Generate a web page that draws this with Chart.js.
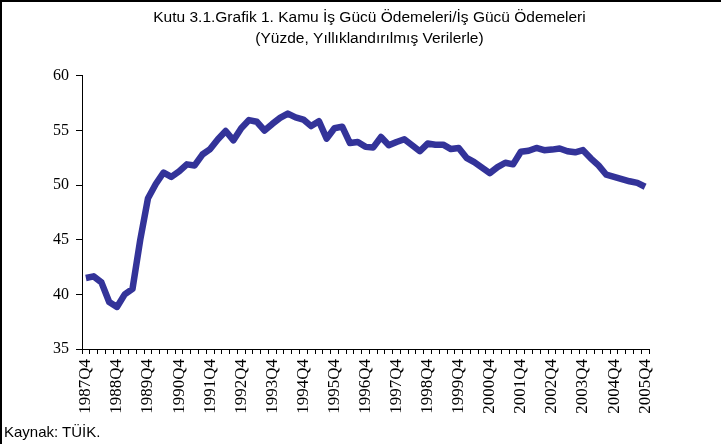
<!DOCTYPE html>
<html>
<head>
<meta charset="utf-8">
<script src="https://cdn.jsdelivr.net/npm/chart.js@4"></script>
<style>
  html, body { margin: 0; padding: 0; background: #fff; }
  #wrap { position: relative; width: 721px; height: 444px; overflow: hidden; }
  #frame { position: absolute; left: 0; top: 0; right: -4px; bottom: -4px;
           border-left: 2px solid #000; border-top: 2px solid #000; pointer-events: none; }
  #kaynak { position: absolute; left: 4px; top: 423px;
            font: 15px 'Liberation Sans Narrow', 'Liberation Sans', Arial, sans-serif; color: #000; }
</style>
</head>
<body>
<div id="wrap">
  <canvas id="chart" width="721" height="444"></canvas>
  <div id="frame"></div>
  <div id="kaynak">Kaynak: TÜİK.</div>
</div>
<script>
// Başlık
const titleLines = ['Kutu 3.1.Grafik 1. Kamu İş Gücü Ödemeleri/İş Gücü Ödemeleri', '(Yüzde, Yıllıklandırılmış Verilerle)'];

// Çeyrekler: 1987Q4 - 2005Q4
const firstYear = 1987;
const lastYear = 2005;
const quarters = [];
for (let y = firstYear; y <= lastYear; y++) {
  for (let q = 1; q <= 4; q++) {
    if (y === firstYear && q < 4) continue;
    quarters.push(y + 'Q' + q);
  }
}

// Kamu iş gücü ödemeleri / iş gücü ödemeleri (%)
const kamuPayi = [
  41.5, 41.65, 41.1, 39.3, 38.85, 40.0, 40.5, 45.0, 48.8, 50.1,
  51.15, 50.75, 51.25, 51.9, 51.8, 52.8, 53.3, 54.2, 54.95, 54.1,
  55.2, 55.95, 55.8, 55.0, 55.6, 56.15, 56.55, 56.2, 56.0, 55.4,
  55.85, 54.25, 55.2, 55.35, 53.85, 53.95, 53.5, 53.45, 54.4, 53.65,
  53.95, 54.2, 53.65, 53.1, 53.8, 53.7, 53.7, 53.3, 53.4, 52.5,
  52.1, 51.6, 51.1, 51.65, 52.05, 51.9, 53.05, 53.15, 53.4, 53.2,
  53.25, 53.35, 53.1, 53.0, 53.2, 52.45, 51.8, 50.95, 50.75, 50.55,
  50.35, 50.2, 49.85
];

// Eksen
const yMin = 35;
const yMax = 60;
const yStep = 5;

const serif = "'Liberation Serif', 'Times New Roman', serif";
const narrow = "'Liberation Sans Narrow', 'Liberation Sans', Arial, sans-serif";

const ctx = document.getElementById('chart').getContext('2d');
new Chart(ctx, {
  type: 'line',
  data: {
    labels: quarters,
    datasets: [{
      data: kamuPayi,
      borderColor: '#333399',
      borderWidth: 6.5,
      pointRadius: 0,
      tension: 0,
      borderJoinStyle: 'round',
      fill: false
    }]
  },
  options: {
    responsive: false,
    animation: false,
    layout: { padding: { left: 18, right: 0, top: 0, bottom: 0 } },
    plugins: {
      legend: { display: false },
      tooltip: { enabled: false },
      title: {
        display: true,
        text: titleLines,
        color: '#000',
        font: { family: narrow, size: 15.5, weight: 'normal', lineHeight: 1.35 },
        padding: { top: 7, bottom: 27 }
      }
    },
    scales: {
      x: {
        offset: true,
        grid: { display: true, offset: true, drawOnChartArea: false, drawTicks: true, tickLength: 5, color: '#000', lineWidth: 1 },
        border: { display: true, color: '#000', width: 1 },
        ticks: {
          autoSkip: false,
          maxRotation: 90,
          minRotation: 90,
          padding: 5,
          color: '#000',
          font: { family: serif, size: 17 },
          callback: function (val, i) { return i % 4 === 0 ? this.getLabelForValue(val) : ''; }
        },
        afterFit: function (scale) { scale.height = 95; }
      },
      y: {
        min: yMin,
        max: yMax,
        grid: { display: true, drawOnChartArea: false, drawTicks: true, tickLength: 6, color: '#000', lineWidth: 1 },
        border: { display: true, color: '#000', width: 1 },
        ticks: { stepSize: yStep, padding: 7, color: '#000', font: { family: serif, size: 16 } },
        afterFit: function (scale) { scale.width = 64; }
      },
      y2: {
        position: 'right',
        min: yMin,
        max: yMax,
        grid: { display: false },
        border: { display: false },
        ticks: { display: false },
        afterFit: function (scale) { scale.width = 72; }
      }
    }
  }
});
</script>
</body>
</html>
